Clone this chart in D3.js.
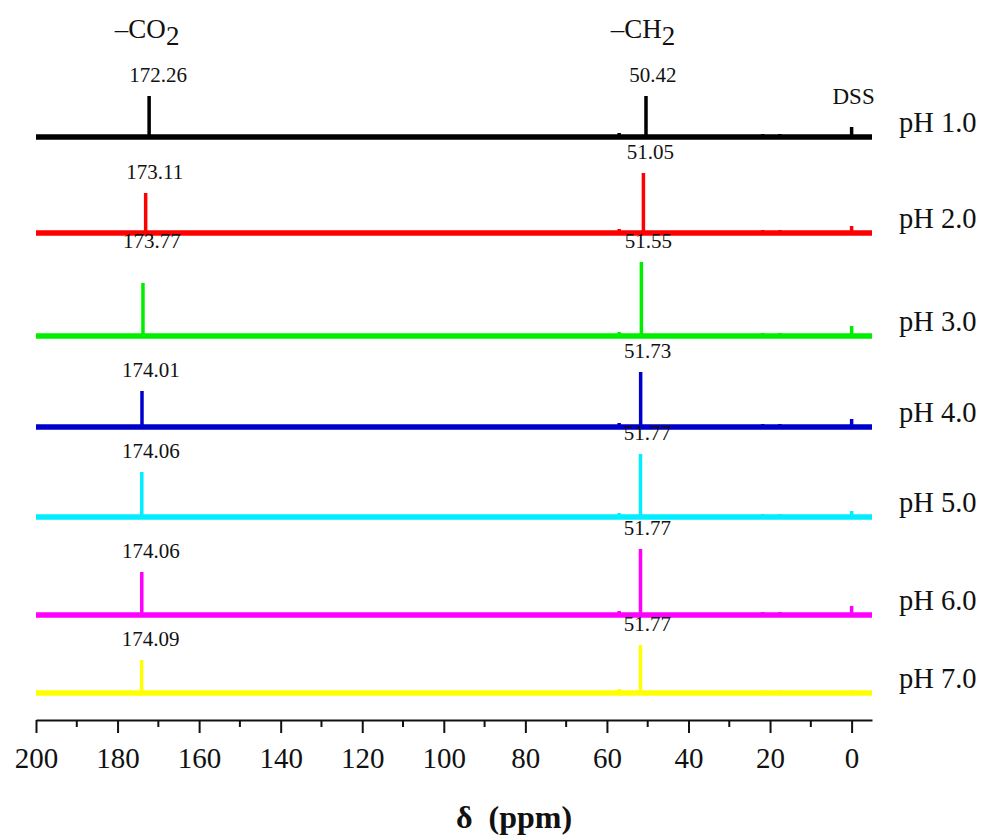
<!DOCTYPE html>
<html>
<head>
<meta charset="utf-8">
<script src="https://cdn.jsdelivr.net/npm/d3@7"></script>
<style>
  body { margin: 0; background: #fff; }
  text { font-family: "Liberation Serif", "Times New Roman", serif; fill: #111; }
</style>
</head>
<body>
<div class="chart"></div>
<script>
// pH series, top to bottom
const phLabels = ["pH 1.0", "pH 2.0", "pH 3.0", "pH 4.0", "pH 5.0", "pH 6.0", "pH 7.0"];
const colors = ["#000000", "#ff0000", "#00ee00", "#0000cc", "#00eeff", "#ff00ff", "#ffff00"];
// vertical stacking offset of each spectrum (intensity units)
const offsets = [556, 460, 357, 266, 176, 78, 0];

// chemical shifts (ppm) and peak intensities
const co2Shift = [172.26, 173.11, 173.77, 174.01, 174.06, 174.06, 174.09];
const ch2Shift = [50.42, 51.05, 51.55, 51.73, 51.77, 51.77, 51.77];
const co2Height = [41, 40, 53, 36, 45, 43, 33];
const ch2Height = [41, 60, 74, 55, 63, 66, 48];
const dssShift = 0;
const dssHeight = [10, 7, 10, 8, 6, 9, 3];
const minorShifts = [57.0, 21.8, 17.6];
const minorHeights = [4, 3, 3];

const majorTicks = [200, 180, 160, 140, 120, 100, 80, 60, 40, 20, 0];
const minorTicks = [190, 170, 150, 130, 110, 90, 70, 50, 30, 10];

const W = 994, H = 839;

const svg = d3.select("div.chart").append("svg")
  .attr("width", W)
  .attr("height", H);

const x = d3.scaleLinear()
  .domain([200, -5])
  .range([36, 872]);

const y = d3.scaleLinear()
  .domain([0, 556])
  .range([693, 137]);

// build each spectrum as a list of [ppm, intensity] points
const spectra = phLabels.map(function(label, i) {
  const peaks = [
    [co2Shift[i], co2Height[i]],
    [ch2Shift[i], ch2Height[i]],
    [dssShift, dssHeight[i]]
  ];
  minorShifts.forEach((s, k) => peaks.push([s, minorHeights[k]]));
  peaks.sort((a, b) => b[0] - a[0]);
  const pts = [[200, 0]];
  peaks.forEach(function(p) {
    pts.push([p[0], 0], [p[0], p[1]], [p[0], 0]);
  });
  pts.push([-5, 0]);
  return {label: label, color: colors[i], offset: offsets[i], points: pts, i: i};
});

const line = d3.line()
  .x(d => x(d[0]))
  .y(d => d[1]);

const g = svg.selectAll("g.spectrum")
  .data(spectra)
  .enter()
  .append("g")
  .attr("class", "spectrum");

// thick baseline
g.append("line")
  .attr("x1", x(200))
  .attr("x2", x(-5))
  .attr("y1", d => y(d.offset))
  .attr("y2", d => y(d.offset))
  .attr("stroke", d => d.color)
  .attr("stroke-width", 5.5);

g.append("path")
  .attr("d", d => line(d.points.map(p => [p[0], y(d.offset + p[1])])))
  .attr("fill", "none")
  .attr("stroke", d => d.color)
  .attr("stroke-width", 3.5)
  .attr("stroke-linejoin", "bevel");

// pH labels on the right
g.append("text")
  .attr("x", 899)
  .attr("y", d => y(d.offset) - 5)
  .style("font-size", "28.5px")
  .text(d => d.label);

// peak value labels (the pH 3.0 carboxyl label sits level with its CH2 label)
g.append("text")
  .attr("x", d => x(co2Shift[d.i]) + 9)
  .attr("y", d => y(d.offset + (d.i === 2 ? ch2Height[d.i] : co2Height[d.i])) - 14)
  .attr("text-anchor", "middle")
  .style("font-size", "21px")
  .text(d => co2Shift[d.i].toFixed(2));

g.append("text")
  .attr("x", d => x(ch2Shift[d.i]) + 7)
  .attr("y", d => y(d.offset + ch2Height[d.i]) - 14)
  .attr("text-anchor", "middle")
  .style("font-size", "21px")
  .text(d => ch2Shift[d.i].toFixed(2));

// group headers
const co2Head = svg.append("text")
  .attr("x", x(co2Shift[0]) - 2)
  .attr("y", 38)
  .attr("text-anchor", "middle")
  .style("font-size", "27px");
co2Head.append("tspan").text("–CO");
co2Head.append("tspan").attr("dy", 7).text("2");

const ch2Head = svg.append("text")
  .attr("x", x(ch2Shift[0]) - 3)
  .attr("y", 38)
  .attr("text-anchor", "middle")
  .style("font-size", "27px");
ch2Head.append("tspan").text("–CH");
ch2Head.append("tspan").attr("dy", 7).text("2");

svg.append("text")
  .attr("x", x(dssShift) + 2)
  .attr("y", 104)
  .attr("text-anchor", "middle")
  .style("font-size", "23px")
  .text("DSS");

// x axis
const axisY = 720;
const axis = svg.append("g")
  .attr("transform", `translate(0,${axisY})`)
  .call(d3.axisBottom(x)
    .tickValues(majorTicks)
    .tickSize(13)
    .tickSizeOuter(0)
    .tickPadding(14)
    .tickFormat(d3.format("d")));

axis.select(".domain").attr("stroke", "#111").attr("stroke-width", 2);
axis.selectAll(".tick line").attr("stroke", "#111").attr("stroke-width", 2);
axis.selectAll(".tick text")
  .style("font-family", "'Liberation Serif', 'Times New Roman', serif")
  .style("font-size", "29px")
  .attr("fill", "#111");

svg.append("g")
  .attr("transform", `translate(0,${axisY})`)
  .selectAll("line")
  .data(minorTicks)
  .enter()
  .append("line")
  .attr("x1", d => x(d))
  .attr("x2", d => x(d))
  .attr("y1", 0)
  .attr("y2", 7)
  .attr("stroke", "#111")
  .attr("stroke-width", 2);

// axis title
svg.append("text")
  .attr("x", 514)
  .attr("y", 828)
  .attr("text-anchor", "middle")
  .style("font-size", "32px")
  .style("font-weight", "bold")
  .style("white-space", "pre")
  .text("δ  (ppm)");
</script>
</body>
</html>
